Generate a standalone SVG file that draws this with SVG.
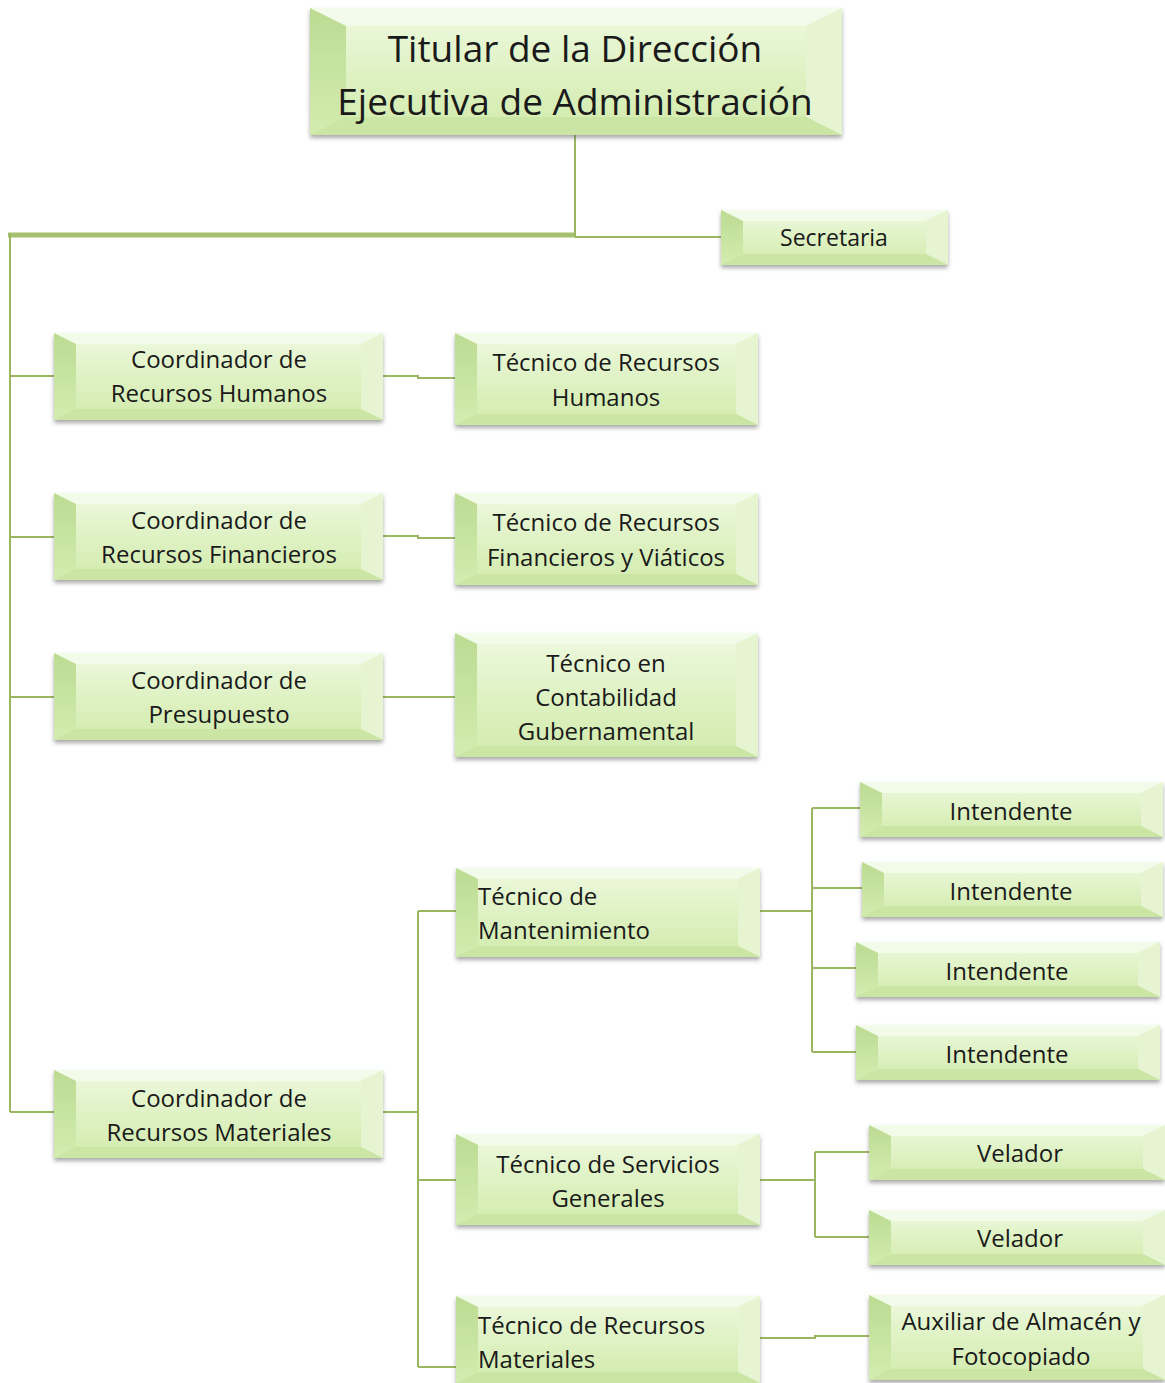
<svg xmlns="http://www.w3.org/2000/svg" width="1165" height="1383" viewBox="0 0 1165 1383">
<defs>
<linearGradient id="face" x1="0" y1="0" x2="0" y2="1">
<stop offset="0" stop-color="#eef9e0"/>
<stop offset="0.5" stop-color="#dff2c4"/>
<stop offset="1" stop-color="#d1ebac"/>
</linearGradient>
<linearGradient id="lb" x1="0" y1="0" x2="0" y2="1">
<stop offset="0" stop-color="#bcdb92"/>
<stop offset="1" stop-color="#d3ecb0"/>
</linearGradient>
<filter id="sh" x="-5%" y="-10%" width="110%" height="130%">
<feDropShadow dx="0" dy="3" stdDeviation="2" flood-color="#555" flood-opacity="0.5"/>
</filter>
</defs>
<style>
.face{fill:url(#face);filter:url(#sh)}
.bt{fill:#f4fbec;opacity:0.8}
.bl{fill:url(#lb)}
.br{fill:#e6f4d2}
.bb{fill:#cbe5a5}
.t{font-family:"Open Sans","Noto Sans","Liberation Sans",sans-serif;font-size:24px;fill:#1a1a1a;text-anchor:middle;dominant-baseline:central}
.tl{text-anchor:start}
.big{font-size:37px}
.sm{font-size:23px}
.con{fill:none;stroke:#9bb661;stroke-width:2}
.thick{fill:none;stroke:#a6c070;stroke-width:5}
</style>
<rect width="1165" height="1383" fill="#ffffff"/>

<g id="connectors">
<path class="thick" d="M8 235 H576"/>
<path class="con" d="M575 135 V237 M575 237 H721"/>
<path class="con" d="M10 233 V1112 M10 376 H54 M10 537 H54 M10 697 H54 M10 1112 H54"/>
<path class="con" d="M383 376 H418 V378 H455"/>
<path class="con" d="M383 536 H418 V538 H455"/>
<path class="con" d="M383 697 H455"/>
<path class="con" d="M383 1112 H418 M418 911 V1367 M418 911 H456 M418 1180 H456 M418 1367 H456"/>
<path class="con" d="M760 911 H812 M812 808 V1052 M812 808 H860 M812 888 H862 M812 968 H856 M812 1052 H856"/>
<path class="con" d="M760 1180 H815 M815 1152 V1237 M815 1152 H869 M815 1237 H869"/>
<path class="con" d="M760 1338 H815 V1336 H869"/>
</g>

<g id="titular">
<rect class="face" x="310" y="8" width="532" height="127"/>
<polygon class="bt" points="310,8 842,8 806,26 346,26"/>
<polygon class="bl" points="310,8 346,26 346,117 310,135"/>
<polygon class="br" points="842,8 842,135 806,117 806,26"/>
<polygon class="bb" points="310,135 346,117 806,117 842,135"/>
<text class="t big" x="575" y="47">Titular de la Dirección</text>
<text class="t big" x="575" y="100">Ejecutiva de Administración</text>
</g>

<g id="secretaria">
<rect class="face" x="721" y="210" width="227" height="55"/>
<polygon class="bt" points="721,210 948,210 926,221 743,221"/>
<polygon class="bl" points="721,210 743,221 743,254 721,265"/>
<polygon class="br" points="948,210 948,265 926,254 926,221"/>
<polygon class="bb" points="721,265 743,254 926,254 948,265"/>
<text class="t sm" x="834" y="237">Secretaria</text>
</g>

<g id="coord-rh">
<rect class="face" x="54" y="333" width="329" height="87"/>
<polygon class="bt" points="54,333 383,333 361,344 76,344"/>
<polygon class="bl" points="54,333 76,344 76,409 54,420"/>
<polygon class="br" points="383,333 383,420 361,409 361,344"/>
<polygon class="bb" points="54,420 76,409 361,409 383,420"/>
<text class="t" x="219" y="358">Coordinador de</text>
<text class="t" x="219" y="392">Recursos Humanos</text>
</g>

<g id="tec-rh">
<rect class="face" x="455" y="333" width="303" height="92"/>
<polygon class="bt" points="455,333 758,333 736,344 477,344"/>
<polygon class="bl" points="455,333 477,344 477,414 455,425"/>
<polygon class="br" points="758,333 758,425 736,414 736,344"/>
<polygon class="bb" points="455,425 477,414 736,414 758,425"/>
<text class="t" x="606" y="361">Técnico de Recursos</text>
<text class="t" x="606" y="396">Humanos</text>
</g>

<g id="coord-rf">
<rect class="face" x="54" y="493" width="329" height="87"/>
<polygon class="bt" points="54,493 383,493 361,504 76,504"/>
<polygon class="bl" points="54,493 76,504 76,569 54,580"/>
<polygon class="br" points="383,493 383,580 361,569 361,504"/>
<polygon class="bb" points="54,580 76,569 361,569 383,580"/>
<text class="t" x="219" y="519">Coordinador de</text>
<text class="t" x="219" y="553">Recursos Financieros</text>
</g>

<g id="tec-rf">
<rect class="face" x="455" y="493" width="303" height="92"/>
<polygon class="bt" points="455,493 758,493 736,504 477,504"/>
<polygon class="bl" points="455,493 477,504 477,574 455,585"/>
<polygon class="br" points="758,493 758,585 736,574 736,504"/>
<polygon class="bb" points="455,585 477,574 736,574 758,585"/>
<text class="t" x="606" y="521">Técnico de Recursos</text>
<text class="t" x="606" y="556">Financieros y Viáticos</text>
</g>

<g id="coord-presupuesto">
<rect class="face" x="54" y="653" width="329" height="87"/>
<polygon class="bt" points="54,653 383,653 361,664 76,664"/>
<polygon class="bl" points="54,653 76,664 76,729 54,740"/>
<polygon class="br" points="383,653 383,740 361,729 361,664"/>
<polygon class="bb" points="54,740 76,729 361,729 383,740"/>
<text class="t" x="219" y="679">Coordinador de</text>
<text class="t" x="219" y="713">Presupuesto</text>
</g>

<g id="tec-contabilidad">
<rect class="face" x="455" y="633" width="303" height="124"/>
<polygon class="bt" points="455,633 758,633 736,644 477,644"/>
<polygon class="bl" points="455,633 477,644 477,746 455,757"/>
<polygon class="br" points="758,633 758,757 736,746 736,644"/>
<polygon class="bb" points="455,757 477,746 736,746 758,757"/>
<text class="t" x="606" y="662">Técnico en</text>
<text class="t" x="606" y="696">Contabilidad</text>
<text class="t" x="606" y="730">Gubernamental</text>
</g>

<g id="coord-rm">
<rect class="face" x="54" y="1070" width="329" height="88"/>
<polygon class="bt" points="54,1070 383,1070 361,1081 76,1081"/>
<polygon class="bl" points="54,1070 76,1081 76,1147 54,1158"/>
<polygon class="br" points="383,1070 383,1158 361,1147 361,1081"/>
<polygon class="bb" points="54,1158 76,1147 361,1147 383,1158"/>
<text class="t" x="219" y="1097">Coordinador de</text>
<text class="t" x="219" y="1131">Recursos Materiales</text>
</g>

<g id="tec-mantenimiento">
<rect class="face" x="456" y="868" width="304" height="89"/>
<polygon class="bt" points="456,868 760,868 738,879 478,879"/>
<polygon class="bl" points="456,868 478,879 478,946 456,957"/>
<polygon class="br" points="760,868 760,957 738,946 738,879"/>
<polygon class="bb" points="456,957 478,946 738,946 760,957"/>
<text class="t tl" x="478" y="895">Técnico de</text>
<text class="t tl" x="478" y="929">Mantenimiento</text>
</g>

<g id="tec-servicios">
<rect class="face" x="456" y="1134" width="304" height="91"/>
<polygon class="bt" points="456,1134 760,1134 738,1145 478,1145"/>
<polygon class="bl" points="456,1134 478,1145 478,1214 456,1225"/>
<polygon class="br" points="760,1134 760,1225 738,1214 738,1145"/>
<polygon class="bb" points="456,1225 478,1214 738,1214 760,1225"/>
<text class="t" x="608" y="1163">Técnico de Servicios</text>
<text class="t" x="608" y="1197">Generales</text>
</g>

<g id="tec-rm">
<rect class="face" x="456" y="1296" width="304" height="87"/>
<polygon class="bt" points="456,1296 760,1296 738,1307 478,1307"/>
<polygon class="bl" points="456,1296 478,1307 478,1372 456,1383"/>
<polygon class="br" points="760,1296 760,1383 738,1372 738,1307"/>
<polygon class="bb" points="456,1383 478,1372 738,1372 760,1383"/>
<text class="t tl" x="478" y="1324">Técnico de Recursos</text>
<text class="t tl" x="478" y="1358">Materiales</text>
</g>

<g id="intendente-1">
<rect class="face" x="860" y="782" width="303" height="55"/>
<polygon class="bt" points="860,782 1163,782 1141,793 882,793"/>
<polygon class="bl" points="860,782 882,793 882,826 860,837"/>
<polygon class="br" points="1163,782 1163,837 1141,826 1141,793"/>
<polygon class="bb" points="860,837 882,826 1141,826 1163,837"/>
<text class="t" x="1011" y="810">Intendente</text>
</g>

<g id="intendente-2">
<rect class="face" x="862" y="862" width="301" height="55"/>
<polygon class="bt" points="862,862 1163,862 1141,873 884,873"/>
<polygon class="bl" points="862,862 884,873 884,906 862,917"/>
<polygon class="br" points="1163,862 1163,917 1141,906 1141,873"/>
<polygon class="bb" points="862,917 884,906 1141,906 1163,917"/>
<text class="t" x="1011" y="890">Intendente</text>
</g>

<g id="intendente-3">
<rect class="face" x="856" y="942" width="304" height="55"/>
<polygon class="bt" points="856,942 1160,942 1138,953 878,953"/>
<polygon class="bl" points="856,942 878,953 878,986 856,997"/>
<polygon class="br" points="1160,942 1160,997 1138,986 1138,953"/>
<polygon class="bb" points="856,997 878,986 1138,986 1160,997"/>
<text class="t" x="1007" y="970">Intendente</text>
</g>

<g id="intendente-4">
<rect class="face" x="856" y="1025" width="304" height="55"/>
<polygon class="bt" points="856,1025 1160,1025 1138,1036 878,1036"/>
<polygon class="bl" points="856,1025 878,1036 878,1069 856,1080"/>
<polygon class="br" points="1160,1025 1160,1080 1138,1069 1138,1036"/>
<polygon class="bb" points="856,1080 878,1069 1138,1069 1160,1080"/>
<text class="t" x="1007" y="1053">Intendente</text>
</g>

<g id="velador-1">
<rect class="face" x="869" y="1125" width="296" height="55"/>
<polygon class="bt" points="869,1125 1165,1125 1143,1136 891,1136"/>
<polygon class="bl" points="869,1125 891,1136 891,1169 869,1180"/>
<polygon class="br" points="1165,1125 1165,1180 1143,1169 1143,1136"/>
<polygon class="bb" points="869,1180 891,1169 1143,1169 1165,1180"/>
<text class="t" x="1020" y="1152">Velador</text>
</g>

<g id="velador-2">
<rect class="face" x="869" y="1210" width="296" height="55"/>
<polygon class="bt" points="869,1210 1165,1210 1143,1221 891,1221"/>
<polygon class="bl" points="869,1210 891,1221 891,1254 869,1265"/>
<polygon class="br" points="1165,1210 1165,1265 1143,1254 1143,1221"/>
<polygon class="bb" points="869,1265 891,1254 1143,1254 1165,1265"/>
<text class="t" x="1020" y="1237">Velador</text>
</g>

<g id="auxiliar">
<rect class="face" x="869" y="1295" width="296" height="85"/>
<polygon class="bt" points="869,1295 1165,1295 1143,1306 891,1306"/>
<polygon class="bl" points="869,1295 891,1306 891,1369 869,1380"/>
<polygon class="br" points="1165,1295 1165,1380 1143,1369 1143,1306"/>
<polygon class="bb" points="869,1380 891,1369 1143,1369 1165,1380"/>
<text class="t" x="1021" y="1320">Auxiliar de Almacén y</text>
<text class="t" x="1021" y="1355">Fotocopiado</text>
</g>
</svg>
